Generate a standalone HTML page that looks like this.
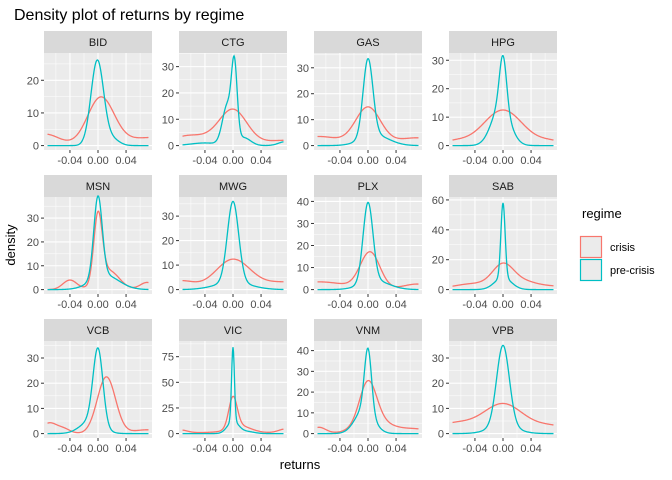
<!DOCTYPE html>
<html><head><meta charset="utf-8"><style>
body{margin:0;background:#fff}
svg{display:block;font-family:"Liberation Sans",Arial,sans-serif}
</style></head><body>
<svg id="s" width="672" height="480" xmlns="http://www.w3.org/2000/svg">
<text x="14" y="20" font-size="16" fill="#000">Density plot of returns by regime</text>
<text x="300" y="469" font-size="13" fill="#000" text-anchor="middle">returns</text>
<text transform="translate(15,245) rotate(-90)" font-size="13" fill="#000" text-anchor="middle">density</text>
<text x="582" y="218" font-size="13" fill="#000">regime</text>
<rect x="580.5" y="236.5" width="21" height="21" fill="#EBEBEB" stroke="#F8766D" stroke-width="1.2"/>
<rect x="580.5" y="259.5" width="21" height="21" fill="#EBEBEB" stroke="#00BFC4" stroke-width="1.2"/>
<text x="610" y="251" font-size="11" fill="#000">crisis</text>
<text x="610" y="274" font-size="11" fill="#000">pre-crisis</text>
</svg>
<script>
var s=document.getElementById('s'),NS='http://www.w3.org/2000/svg';
function el(t,a,txt){var e=document.createElementNS(NS,t);for(var k in a)e.setAttribute(k,a[k]);if(txt!=null)e.textContent=txt;s.appendChild(e);return e;}
var cols=[44,179,314,449],W=108,rows=[[31,53,150],[175,197,294],[319,341,438]];
var P=[
["BID",27,[0,10,20],[[26,-0.001,0.009],[2,0.02,0.01]],[[14.5,0.004,0.019],[3.5,-0.075,0.02],[2.5,0.08,0.04]]],
["CTG",33.5,[0,10,20,30],[[27,0.002,0.004],[15,-0.008,0.007],[3,0.015,0.01],[1,-0.04,0.02],[1.5,0.075,0.01]],[[13.5,0,0.02],[3,-0.07,0.02],[2,0.075,0.03],[2,-0.04,0.02]]],
["GAS",34,[0,10,20,30],[[30,0,0.007],[4,0.01,0.02]],[[14.5,0,0.018],[3.5,-0.07,0.03],[3,0.07,0.03]]],
["HPG",31,[0,10,20,30],[[18,0,0.005],[14,-0.003,0.013]],[[12.5,0,0.028],[1.5,-0.07,0.02],[1.5,0.07,0.02]]],
["MSN",37,[0,10,20,30],[[34,0,0.006],[6,0.01,0.02]],[[28,0,0.006],[8,0.015,0.015],[4,-0.04,0.01],[3,0.07,0.01]]],
["MWG",36,[0,10,20,30],[[33,0,0.008],[3,0,0.025]],[[12.3,0,0.025],[3.5,-0.075,0.02],[3,0.075,0.03]]],
["PLX",40,[0,10,20,30,40],[[36,0,0.007],[4,0.01,0.02]],[[16.5,0.003,0.014],[3.5,-0.07,0.04],[2.5,0.07,0.02]]],
["SAB",59,[0,20,40,60],[[50,0,0.003],[8,0,0.012]],[[14.5,0,0.015],[4,-0.04,0.03],[5,0.03,0.02],[2,0.075,0.02]]],
["VCB",35,[0,10,20,30],[[30,0,0.007],[5,-0.01,0.015]],[[22.5,0.012,0.013],[4,-0.07,0.01],[2,-0.05,0.01],[1.5,0.07,0.02]]],
["VIC",86,[0,25,50,75],[[72,0,0.002],[12,0,0.008],[2,0.02,0.01]],[[30,0,0.006],[6,0.01,0.015],[3,-0.075,0.01],[4,0.075,0.01],[1.5,0,0.05]]],
["VNM",42.5,[0,10,20,30,40],[[30,0,0.005],[12,-0.005,0.013]],[[20,0,0.012],[6,0.01,0.025],[3,-0.07,0.01],[2,0.07,0.02]]],
["VPB",35,[0,10,20,30],[[32,0,0.009],[3,0,0.02]],[[11.5,0,0.028],[4,-0.07,0.03],[3,0.07,0.03]]]
];
function f(c,x){var v=0;c.forEach(function(g){v+=g[0]*Math.exp(-0.5*Math.pow((x-g[1])/g[2],2));});return v;}
P.forEach(function(p,i){
 var c=i%4,r=Math.floor(i/4),x0=cols[c],R=rows[r],top=R[1],bot=R[2],H=bot-top;
 var m=p[1],lo=-0.05*m,hi=1.05*m;
 var X=function(v){return x0+(v+0.077)/0.154*W;},Y=function(v){return bot-(v-lo)/(hi-lo)*H;};
 el('rect',{x:x0,y:R[0],width:W,height:R[1]-R[0],fill:'#D9D9D9'});
 el('text',{x:x0+W/2,y:R[0]+15,'font-size':11,fill:'#1A1A1A','text-anchor':'middle'},p[0]);
 el('rect',{x:x0,y:top,width:W,height:H,fill:'#EBEBEB'});
 [-0.06,-0.02,0.02,0.06].forEach(function(v){el('line',{x1:X(v),x2:X(v),y1:top,y2:bot,stroke:'#fff','stroke-width':0.5});});
 var t=p[2],st=t[1]-t[0];
 for(var k=-1;k<t.length+1;k++){var v=t[0]+st*(k+0.5);if(v>lo&&v<hi)el('line',{x1:x0,x2:x0+W,y1:Y(v),y2:Y(v),stroke:'#fff','stroke-width':0.5});}
 [-0.04,0,0.04].forEach(function(v){el('line',{x1:X(v),x2:X(v),y1:top,y2:bot,stroke:'#fff','stroke-width':1.1});
  el('line',{x1:X(v),x2:X(v),y1:bot,y2:bot+3,stroke:'#333','stroke-width':1});
  el('text',{x:X(v),y:bot+14,'font-size':11,fill:'#4D4D4D','text-anchor':'middle'},v==0?'0.00':(v<0?'-0.04':'0.04'));});
 t.forEach(function(v){el('line',{x1:x0,x2:x0+W,y1:Y(v),y2:Y(v),stroke:'#fff','stroke-width':1.1});
  el('line',{x1:x0-3,x2:x0,y1:Y(v),y2:Y(v),stroke:'#333','stroke-width':1});
  el('text',{x:x0-5,y:Y(v)+4,'font-size':11,fill:'#4D4D4D','text-anchor':'end'},v);});
 [[p[4],'#F8766D'],[p[3],'#00BFC4']].forEach(function(q){var d='';
  for(var j=0;j<=200;j++){var xv=-0.072+0.144*j/200;d+=(j?'L':'M')+X(xv).toFixed(2)+' '+Y(f(q[0],xv)).toFixed(2);}
  el('path',{d:d,fill:'none',stroke:q[1],'stroke-width':1.3});});
});
</script>
</body></html>
